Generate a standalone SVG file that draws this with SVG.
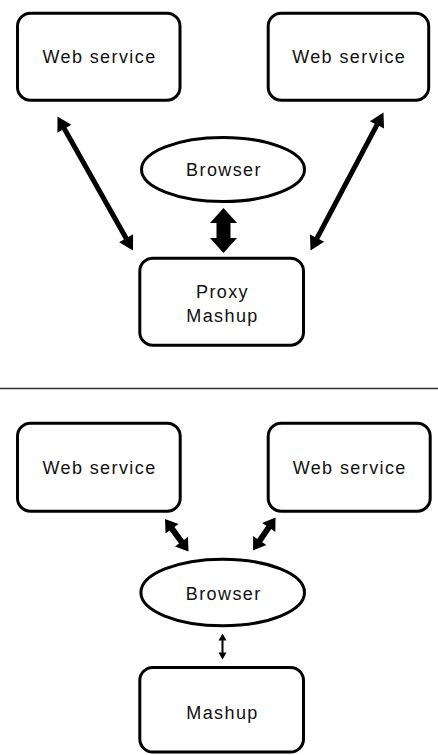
<svg xmlns="http://www.w3.org/2000/svg" width="438" height="755" viewBox="0 0 438 755">
<style>
.box{fill:#fff;stroke:#000;stroke-width:3}
.lbl{font-family:"Liberation Sans",Arial,sans-serif;font-size:18px;letter-spacing:1.4px;fill:#111;text-anchor:middle}
.arr{fill:#000;stroke:none}
</style>
<rect width="438" height="755" fill="#fff"/>
<g id="connectors">
<polygon class="arr" points="57.5,116.5 57.40,132.63 62.19,129.93 123.95,239.53 119.16,242.23 133,250.5 133.10,234.37 128.31,237.07 66.55,127.47 71.34,124.77"/>
<polygon class="arr" points="383.5,112.5 369.88,121.14 374.74,123.71 314.84,236.95 309.98,234.38 310.5,250.5 324.12,241.86 319.26,239.29 379.16,126.05 384.02,128.62"/>
<polygon class="arr" points="223.5,208 210,223 216.5,223 216.5,238 210,238 223.5,253 237,238 230.5,238 230.5,223 237,223"/>
<polygon class="arr" points="165,519 165.55,533.41 169.60,530.48 179.04,543.53 174.99,546.46 188.5,551.5 187.95,537.08 183.90,540.01 174.46,526.97 178.51,524.04"/>
<polygon class="arr" points="275.5,517.5 262.13,522.91 266.26,525.72 257.28,538.90 253.15,536.08 253,550.5 266.37,545.10 262.24,542.28 271.22,529.10 275.35,531.92"/>
<polygon class="arr" points="222.5,633.5 218.5,640.5 221.5,640.5 221.5,652.5 218.5,652.5 222.5,659.5 226.5,652.5 223.5,652.5 223.5,640.5 226.5,640.5"/>
</g>
<line id="separator" x1="0" y1="388.5" x2="438" y2="388.5" stroke="#333" stroke-width="1.5"/>
<g id="ws1"><rect class="box" x="17.5" y="13.2" width="162.5" height="87" rx="13"/><text class="lbl" x="99.5" y="63.3">Web service</text></g>
<g id="ws2"><rect class="box" x="268.2" y="13.2" width="160.5" height="87" rx="13"/><text class="lbl" x="349.2" y="63.3">Web service</text></g>
<g id="browser1"><ellipse class="box" cx="223" cy="169.5" rx="81.5" ry="32"/><text class="lbl" x="224" y="175.7">Browser</text></g>
<g id="proxy"><rect class="box" x="139.8" y="258.2" width="163.7" height="87" rx="13"/><text class="lbl" x="222.5" y="298.3">Proxy</text><text class="lbl" x="222.5" y="321.7">Mashup</text></g>
<g id="ws3"><rect class="box" x="17.5" y="423.2" width="162.7" height="88" rx="13"/><text class="lbl" x="99.5" y="474">Web service</text></g>
<g id="ws4"><rect class="box" x="268.2" y="423.2" width="162" height="88" rx="13"/><text class="lbl" x="349.7" y="474">Web service</text></g>
<g id="browser2"><ellipse class="box" cx="222.7" cy="592.5" rx="81.8" ry="33.3"/><text class="lbl" x="223.7" y="600">Browser</text></g>
<g id="mashup"><rect class="box" x="139.8" y="667.5" width="163.7" height="84.5" rx="13"/><text class="lbl" x="222.5" y="719">Mashup</text></g>
</svg>
